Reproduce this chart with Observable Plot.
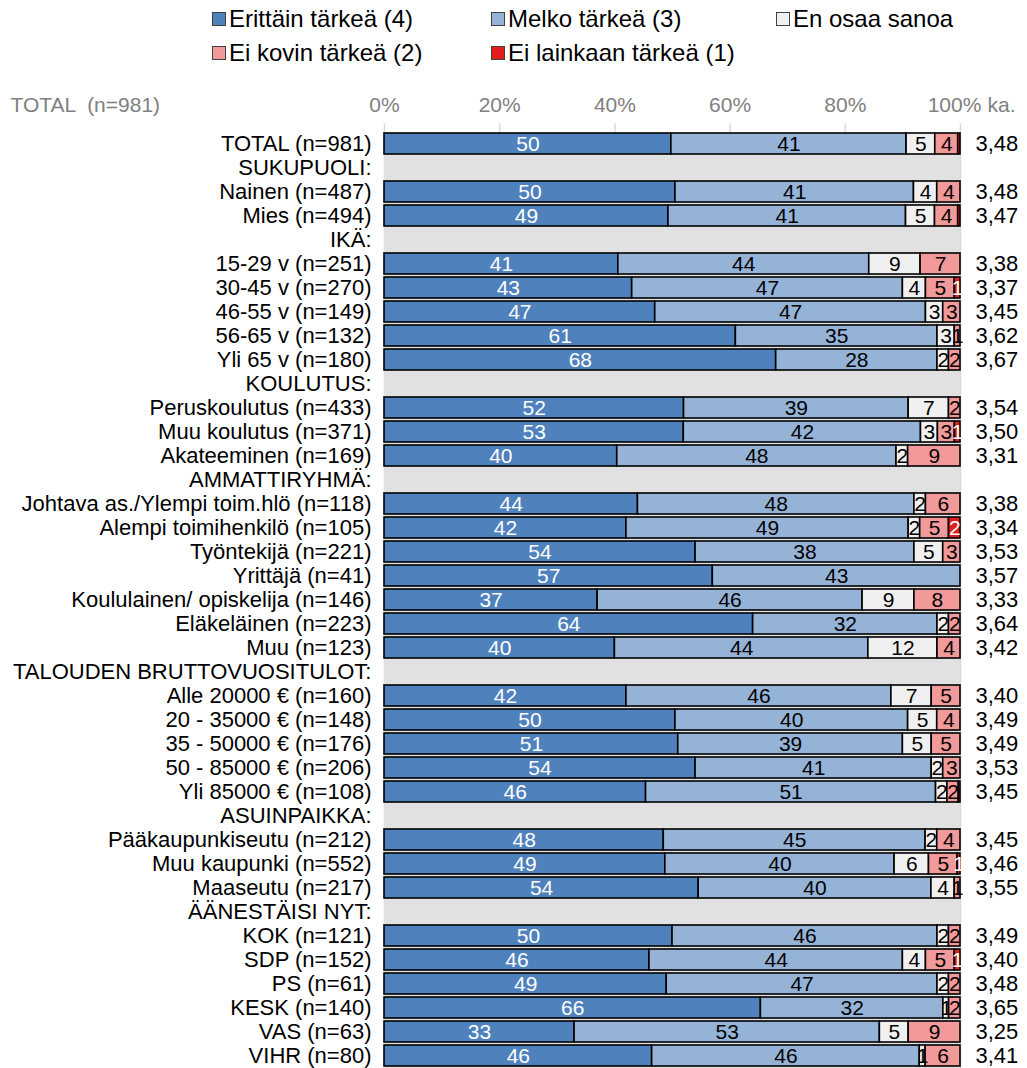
<!DOCTYPE html>
<html>
<head>
<meta charset="utf-8">
<script src="https://cdn.jsdelivr.net/npm/d3@7"></script>
<script src="https://cdn.jsdelivr.net/npm/@observablehq/plot@0.6"></script>
<style>
  body { margin: 0; background: #fff; font-family: "Liberation Sans", Arial, sans-serif; }
  #legend { position: relative; height: 78px; width: 1027px; }
  .li { position: absolute; font-size: 24px; color: #000; white-space: nowrap; line-height: 28px; }
  .sw { display: inline-block; width: 12px; height: 12px; border: 1px solid #404040; margin-right: 3px; vertical-align: 1px; }
  #chart svg { display: block; }
</style>
</head>
<body>
<div id="legend"></div>
<div id="chart"></div>
<script>
const categories = ["Erittäin tärkeä (4)", "Melko tärkeä (3)", "En osaa sanoa", "Ei kovin tärkeä (2)", "Ei lainkaan tärkeä (1)"];
const colors = ["#4f81bd", "#95b3d7", "#f0f0f0", "#f29a9a", "#e31c1c"];
const labelColors = ["#ffffff", "#000000", "#000000", "#000000", "#ffffff"];

const rowLabels = [
  "TOTAL (n=981)", "SUKUPUOLI:", "Nainen (n=487)", "Mies (n=494)",
  "IKÄ:", "15-29 v (n=251)", "30-45 v (n=270)", "46-55 v (n=149)", "56-65 v (n=132)", "Yli 65 v (n=180)",
  "KOULUTUS:", "Peruskoulutus (n=433)", "Muu koulutus (n=371)", "Akateeminen (n=169)",
  "AMMATTIRYHMÄ:", "Johtava as./Ylempi toim.hlö (n=118)", "Alempi toimihenkilö (n=105)", "Työntekijä (n=221)",
  "Yrittäjä (n=41)", "Koululainen/ opiskelija (n=146)", "Eläkeläinen (n=223)", "Muu (n=123)",
  "TALOUDEN BRUTTOVUOSITULOT:", "Alle 20000 € (n=160)", "20 - 35000 € (n=148)", "35 - 50000 € (n=176)",
  "50 - 85000 € (n=206)", "Yli 85000 € (n=108)",
  "ASUINPAIKKA:", "Pääkaupunkiseutu (n=212)", "Muu kaupunki (n=552)", "Maaseutu (n=217)",
  "ÄÄNESTÄISI NYT:", "KOK (n=121)", "SDP (n=152)", "PS (n=61)", "KESK (n=140)", "VAS (n=63)", "VIHR (n=80)"
];

const erittain   = [50, null, 50, 49, null, 41, 43, 47, 61, 68, null, 52, 53, 40, null, 44, 42, 54, 57, 37, 64, 40, null, 42, 50, 51, 54, 46, null, 48, 49, 54, null, 50, 46, 49, 66, 33, 46];
const melko      = [41, null, 41, 41, null, 44, 47, 47, 35, 28, null, 39, 42, 48, null, 48, 49, 38, 43, 46, 32, 44, null, 46, 40, 39, 41, 51, null, 45, 40, 40, null, 46, 44, 47, 32, 53, 46];
const eos        = [5, null, 4, 5, null, 9, 4, 3, 3, 2, null, 7, 3, 2, null, 2, 2, 5, 0, 9, 2, 12, null, 7, 5, 5, 2, 2, null, 2, 6, 4, null, 2, 4, 2, 1, 5, 1];
const eiKovin    = [4, null, 4, 4, null, 7, 5, 3, 1, 2, null, 2, 3, 9, null, 6, 5, 3, 0, 8, 2, 4, null, 5, 4, 5, 3, 2, null, 4, 5, 1, null, 2, 5, 2, 2, 9, 6];
const eiLainkaan = [0.4, null, 0, 0.4, null, 0, 1, 0, 0, 0, null, 0, 1, 0, null, 0, 2, 0, 0, 0, 0, 0, null, 0, 0, 0, 0, 0.3, null, 0, 0.5, 0, null, 0, 1, 0, 0, 0, 0];
const means      = ["3,48", null, "3,48", "3,47", null, "3,38", "3,37", "3,45", "3,62", "3,67", null, "3,54", "3,50", "3,31", null, "3,38", "3,34", "3,53", "3,57", "3,33", "3,64", "3,42", null, "3,40", "3,49", "3,49", "3,53", "3,45", null, "3,45", "3,46", "3,55", null, "3,49", "3,40", "3,48", "3,65", "3,25", "3,41"];
const ticks = [0, 0.2, 0.4, 0.6, 0.8, 1];

// legend
const legendPos = [[212, 5], [491, 5], [776, 5], [212, 39], [491, 39]];
const legend = document.getElementById("legend");
categories.forEach((c, i) => {
  const d = document.createElement("div");
  d.className = "li";
  d.style.left = legendPos[i][0] + "px";
  d.style.top = legendPos[i][1] + "px";
  d.innerHTML = `<span class="sw" style="background:${colors[i]}"></span>${c}`;
  legend.appendChild(d);
});

// data table
const series = [erittain, melko, eos, eiKovin, eiLainkaan];
const data = [];
rowLabels.forEach((r, i) => {
  if (erittain[i] == null) return;
  series.forEach((s, k) => {
    if (s[i] > 0) data.push({row: r, cat: categories[k], k, value: s[i]});
  });
});
const bgRows = rowLabels.slice(1);
const meanData = rowLabels.map((r, i) => ({row: r, mean: means[i]})).filter(d => d.mean != null);
const gridCells = [];
bgRows.forEach(r => ticks.forEach(t => gridCells.push({row: r, t})));

const stackOpts = {x: "value", y: "row", z: "cat", order: categories, offset: "normalize"};
const axisStyle = {frameAnchor: "top", lineAnchor: "middle", dy: -25, fill: "#808080", fontSize: 21};

const chart = Plot.plot({
  width: 1027,
  height: 991,
  marginTop: 51.3,
  marginLeft: 384,
  marginRight: 67,
  marginBottom: 0,
  x: {domain: [0, 1], axis: null},
  y: {domain: rowLabels, padding: 0.14, axis: null},
  color: {domain: categories, range: colors},
  style: {fontFamily: "'Liberation Sans', Arial, sans-serif", fontSize: "21px", background: "#fff"},
  marks: [
    Plot.ruleX(ticks, {x: d => d, stroke: "#d9d9d9", strokeWidth: 1.5, insetTop: -6}),
    Plot.barX(bgRows, {y: d => d, x1: 0, x2: 1, fill: "#e1e1e1", insetTop: -2.2, insetBottom: -2.2}),
    Plot.barX([rowLabels[0]], {y: d => d, x1: 0, x2: 1, fill: "#e1e1e1", insetTop: 10, insetBottom: -2.2}),
    Plot.ruleX(gridCells, {x: "t", y: "row", stroke: "#ffffff", strokeWidth: 1.5, insetTop: -2.2, insetBottom: -2.2}),
    Plot.barX(data, Plot.stackX({...stackOpts, fill: "cat", stroke: "#000", strokeWidth: 1.6})),
    Plot.text(data, Plot.stackX({...stackOpts, text: d => Math.round(d.value) >= 1 ? String(Math.round(d.value)) : "",
      fill: d => labelColors[d.k], fontSize: 21})),
    Plot.text(rowLabels, {y: d => d, text: d => d, frameAnchor: "left", textAnchor: "end", dx: -13, fontSize: 22, fill: "#000"}),
    Plot.text(meanData, {y: "row", text: "mean", frameAnchor: "right", textAnchor: "start", dx: 15, fontSize: 22, fill: "#000"}),
    Plot.text(ticks.slice(0, 5), {x: d => d, text: d => Math.round(d * 100) + "%", ...axisStyle}),
    Plot.text(ticks.slice(5), {x: d => d, text: d => Math.round(d * 100) + "%", ...axisStyle, dx: -6}),
    Plot.text(["ka."], {text: d => d, frameAnchor: "top-right", lineAnchor: "middle", textAnchor: "start", dx: 27, dy: -25, fill: "#808080", fontSize: 21}),
    Plot.text(["TOTAL  (n=981)"], {text: d => d, frameAnchor: "top-left", lineAnchor: "middle", textAnchor: "start", dx: -374, dy: -25, fill: "#808080", fontSize: 21})
  ]
});
document.getElementById("chart").appendChild(chart);
</script>
</body>
</html>
